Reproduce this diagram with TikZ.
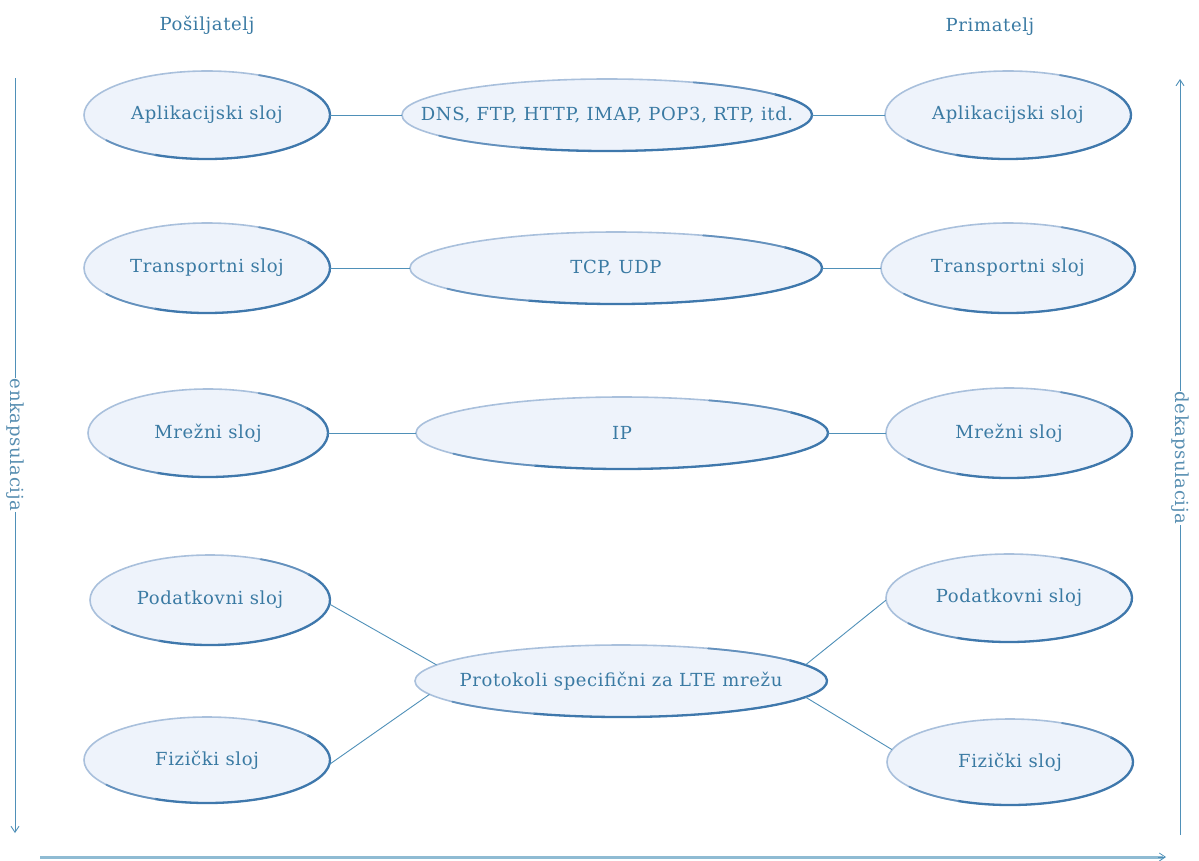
\documentclass[tikz,border=0pt]{standalone}
\usepackage{fontspec}
\setmainfont[LetterSpace=3.5]{DejaVu Serif}
\usetikzlibrary{shapes.geometric,arrows.meta}
\definecolor{txt}{HTML}{3A7AA3}
\definecolor{lin}{HTML}{4F90B8}
\definecolor{efill}{HTML}{EEF3FB}
\definecolor{elight}{HTML}{A9C0DC}
\definecolor{edark}{HTML}{3F78AC}
\definecolor{arr}{HTML}{8FBBD3}
\tikzset{
  layshape/.style={ellipse, inner sep=0pt},
  laytext/.style={text=txt, font=\fontsize{18}{20}\selectfont, inner sep=0pt},
  conn/.style={draw=lin, line width=0.9pt},
  ttl/.style={text=txt, font=\fontsize{18}{20}\selectfont},
  side/.style={text=txt!85, font=\fontsize{18}{20}\selectfont, fill=white, inner sep=1pt, rotate=-90},
  vline/.style={draw=lin, line width=0.9pt, -{Straight Barb[length=6pt,width=8pt]}}
}
% #1 name, #2 x, #3 y, #4 rx, #5 ry, #6 text
\newcommand\layer[6]{%
  \fill[efill] (#2,#3) ellipse[x radius=#4, y radius=#5];
  \draw[elight, line width=1.6pt] (#2,#3) ellipse[x radius=#4, y radius=#5];
  \draw[edark, line width=2.3pt, line cap=round] (#2,#3) ++(-35:#4 and #5) arc[start angle=-35, end angle=115, x radius=#4, y radius=#5];
  \draw[edark!65!elight, line width=1.8pt, line cap=round] (#2,#3) ++(-65:#4 and #5) arc[start angle=-65, end angle=-35, x radius=#4, y radius=#5];
  \draw[edark!65!elight, line width=1.8pt, line cap=round] (#2,#3) ++(115:#4 and #5) arc[start angle=115, end angle=145, x radius=#4, y radius=#5];
  \node[layshape, minimum width={2*#4pt}, minimum height={2*#5pt}] (#1) at (#2,#3) {};
  \node[laytext] (#1t) at (#1.center) {#6};
}
\begin{document}
\begin{tikzpicture}[x=1pt,y=-1pt]
\useasboundingbox (0,0) rectangle (1199,860);
\node[ttl] (snd) at (207,25) {Pošiljatelj};
\node[ttl] (rcv) at (990,27) {Primatelj};
% left
\layer{a1}{207}{115}{123}{44}{Aplikacijski sloj}
\layer{t1}{207}{268}{123}{45}{Transportni sloj}
\layer{n1}{208}{433}{120}{44}{Mrežni sloj}
\layer{p1}{210}{600}{120}{45}{Podatkovni sloj}
\layer{f1}{207}{760}{123}{43}{Fizički sloj}
% right
\layer{a2}{1008}{115}{123}{44}{Aplikacijski sloj}
\layer{t2}{1008}{268}{127}{45}{Transportni sloj}
\layer{n2}{1009}{433}{123}{45}{Mrežni sloj}
\layer{p2}{1009}{598}{123}{44}{Podatkovni sloj}
\layer{f2}{1010}{762}{123}{43}{Fizički sloj}
% middle
\layer{m1}{607}{115}{205}{36}{DNS, FTP, HTTP, IMAP, POP3, RTP, itd.}
\layer{m2}{616}{268}{206}{36}{TCP, UDP}
\layer{m3}{622}{433}{206}{36}{IP}
\layer{m4}{621}{681}{206}{36}{Protokoli specifični za LTE mrežu}
% connectors
\draw[conn] (a1.east) -- (m1.west);
\draw[conn] (m1.east) -- (a2.west);
\draw[conn] (t1.east) -- (m2.west);
\draw[conn] (m2.east) -- (t2.west);
\draw[conn] (n1.east) -- (m3.west);
\draw[conn] (m3.east) -- (n2.west);
\draw[conn] (p1.-2.4) -- (m4.175);
\draw[conn] (f1.-2.3) -- (m4.184);
\draw[conn] (m4.5.9) -- (p2.181.8);
\draw[conn] (m4.-5.5) -- (f2.174);
% side arrows
\coordinate (lt) at (15,78);
\coordinate (lb) at (15,833);
\coordinate (rb) at (1180,835);
\coordinate (rt) at (1180,79);
\coordinate (bl) at (40,857);
\coordinate (br) at (1166,857);
\draw[vline] (lt) -- (lb);
\draw[vline] (rb) -- (rt);
\draw[draw=arr, line width=3pt] (bl) -- ([xshift=-3pt]br);
\draw[draw=lin, line width=0.8pt, -{Straight Barb[length=6pt,width=8pt]}] ([xshift=-8pt]br) -- (br);
\node[side] (enk) at (15,445) {enkapsulacija};
\node[side] (dek) at (1180,458) {dekapsulacija};
\end{tikzpicture}
\end{document}
